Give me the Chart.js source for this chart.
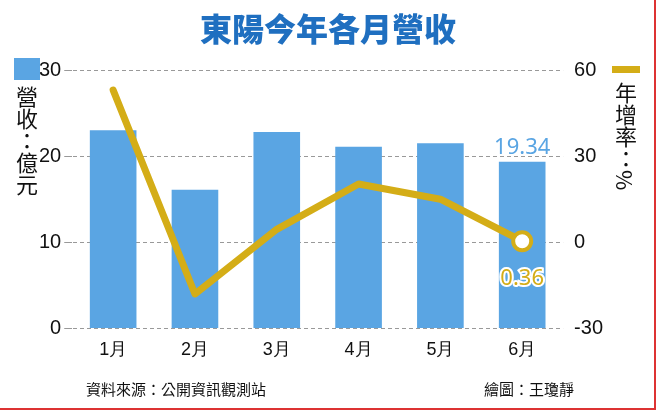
<!DOCTYPE html>
<html><head><meta charset="utf-8">
<script src="https://cdn.jsdelivr.net/npm/chart.js@4"></script>
<style>
body{margin:0;background:#fff;font-family:"Noto Sans CJK TC",sans-serif}
#wrap{position:relative;width:654px;height:408px;border-right:2px solid #d33;border-bottom:2px solid #d33;overflow:hidden}
.t{position:absolute;white-space:nowrap}
</style></head><body>
<div id="wrap">
<canvas id="c" width="656" height="410" style="position:absolute;left:0;top:0"></canvas>
<div class="t" style="left:0;width:656px;top:4px;text-align:center;font-size:32px;font-weight:900;color:#1f6fc0">東陽今年各月營收</div>
<div class="t" style="left:14px;top:58px;width:26px;height:22px;background:#5aa5e3"></div>
<div class="t" style="left:14px;top:86px;width:26px;font-size:22px;line-height:26px;writing-mode:vertical-rl;color:#111">營收：億元</div>
<div class="t" style="left:612px;top:66px;width:28px;height:7px;background:#d4ad17"></div>
<div class="t" style="left:613px;top:82px;width:26px;font-size:22px;line-height:26px;writing-mode:vertical-rl;color:#111">年增率：%</div>
<div class="t" style="left:86px;top:378px;font-size:15px;color:#111">資料來源：公開資訊觀測站</div>
<div class="t" style="left:484px;top:378px;font-size:15px;color:#111">繪圖：王瓊靜</div>
</div>
<script>
const months = ['1月','2月','3月','4月','5月','6月'];
const revenue = [23.0, 16.1, 22.8, 21.1, 21.5, 19.34];
const growth = [53, -18, 4.5, 20.3, 15, 0.36];

const labelPlugin = {
  id: 'labels',
  afterDatasetsDraw(chart) {
    const ctx = chart.ctx;
    const bar = chart.getDatasetMeta(1).data[5];
    const pt = chart.getDatasetMeta(0).data[5];
    ctx.save();
    ctx.font = '22px "Noto Sans", sans-serif';
    ctx.textAlign = 'center';
    ctx.fillStyle = '#5aa5e3';
    ctx.fillText(revenue[5].toFixed(2), bar.x, bar.y - 8);
    ctx.lineWidth = 4; ctx.strokeStyle = '#fff';
    ctx.strokeText(growth[5].toFixed(2), pt.x, pt.y + 44);
    ctx.fillStyle = '#d4ad17';
    ctx.fillText(growth[5].toFixed(2), pt.x, pt.y + 44);
    ctx.restore();
  }
};

new Chart(document.getElementById('c'), {
  data: {
    labels: months,
    datasets: [
      { type: 'line', data: growth, yAxisID: 'y2', borderColor: '#d4ad17', borderWidth: 7,
        tension: 0, borderJoinStyle: 'round', borderCapStyle: 'round',
        pointRadius: [0,0,0,0,0,9], pointBackgroundColor: '#fff', pointBorderColor: '#d4ad17', pointBorderWidth: 4, order: 0 },
      { type: 'bar', data: revenue, yAxisID: 'y', backgroundColor: '#5aa5e3', categoryPercentage: 0.6, barPercentage: 0.95, order: 1 }
    ]
  },
  options: {
    responsive: false, animation: false,
    layout: { padding: { top: 70, bottom: 46, left: 36, right: 50 } },
    plugins: { legend: { display: false }, tooltip: { enabled: false } },
    scales: {
      x: { grid: { display: false }, border: { display: false },
           ticks: { color: '#111', font: { size: 18 } } },
      y: { position: 'left', min: 0, max: 30, ticks: { stepSize: 10, color: '#111', font: { size: 20 } },
           grid: { color: '#999', lineWidth: 1 }, border: { color: 'transparent', dash: [4,3] } },
      y2: { position: 'right', min: -30, max: 60, ticks: { stepSize: 30, color: '#111', font: { size: 20 } },
            grid: { display: false }, border: { display: false } }
    }
  },
  plugins: [labelPlugin]
});
</script>
</body></html>
